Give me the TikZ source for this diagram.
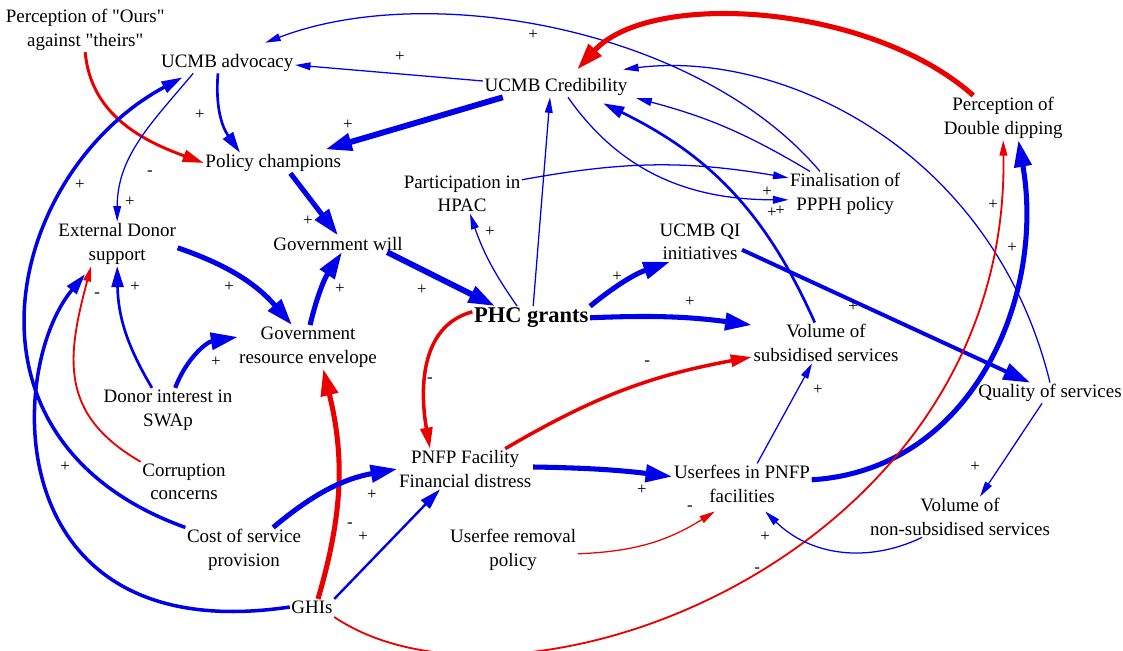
\documentclass[tikz,border=0pt]{standalone}
\usepackage{fontspec}
\setmainfont{Liberation Serif}[Ligatures=TeXOff]
\usetikzlibrary{arrows.meta}
\definecolor{cldblue}{RGB}{0,0,235}
\definecolor{cldred}{RGB}{235,0,0}

\begin{document}
\begin{tikzpicture}[
  factor/.style={align=center,inner sep=1pt,font=\fontsize{13.5}{17}\selectfont},
  polarity/.style={inner sep=0pt,font=\fontsize{12}{12}\selectfont},
  flow/.style={line width=0.9pt,-{Triangle[length=11pt,width=5.5pt]}},
  flow mid/.style={line width=1.9pt,-{Triangle[length=15pt,width=8.5pt]}},
  flow bold/.style={line width=3.6pt,-{Triangle[length=19pt,width=12pt]}}
]
\useasboundingbox (0,0) rectangle (28.075,16.275);

% variables, top row
\node[factor] (ours) at (2.13,15.53) {Perception of "Ours"\\against "theirs"};
\node[factor] (adv) at (5.68,14.70) {UCMB advocacy};
\node[factor] (cred) at (13.90,14.10) {UCMB Credibility};
\node[factor] (dd) at (25.08,13.33) {Perception of\\Double dipping};
\node[factor] (champ) at (6.83,12.20) {Policy champions};
\node[factor] (hpac) at (11.55,11.43) {Participation in\\HPAC};
\node[factor] (ppph) at (21.13,11.43) {Finalisation of\\PPPH policy};

% variables, middle
\node[factor] (ext) at (2.93,10.18) {External Donor\\support};
\node[factor] (gwill) at (8.45,10.18) {Government will};
\node[factor] (qi) at (17.50,10.23) {UCMB QI\\initiatives};
\node[factor,font=\fontsize{16}{19}\selectfont\bfseries] (phc) at (13.28,8.33) {PHC grants};
\node[factor] (vol) at (20.65,7.70) {Volume of\\subsidised services};
\node[factor] (env) at (7.70,7.60) {Government\\resource envelope};
\node[factor] (donor) at (4.20,6.03) {Donor interest in\\SWAp};
\node[factor] (qual) at (26.25,6.45) {Quality of services};

% variables, bottom
\node[factor] (corr) at (4.60,4.23) {Corruption\\concerns};
\node[factor] (pnfp) at (11.63,4.55) {PNFP Facility\\Financial distress};
\node[factor] (fees) at (18.55,4.18) {Userfees in PNFP\\facilities};
\node[factor] (nonsub) at (24.00,3.35) {Volume of\\non-subsidised services};
\node[factor] (remov) at (12.83,2.53) {Userfee removal\\policy};
\node[factor] (cost) at (6.10,2.53) {Cost of service\\provision};
\node[factor] (ghi) at (7.80,1.10) {GHIs};

% links round advocacy and credibility
\draw[flow mid,cldred,line width=2.1pt] (ours.south) to[out=-85,in=160] (champ.west);
\draw[flow mid,cldblue] ([xshift=-0.23cm]adv.south) to[out=-95,in=125] ([xshift=-0.83cm]champ.north);
\draw[flow,cldblue] ([xshift=-0.85cm]adv.south) to[out=-130,in=90] (ext.north);
\draw[flow,cldblue] ([yshift=0.15cm]cred.west) -- ([yshift=-0.05cm]adv.east);
\draw[flow,cldblue] ([xshift=-0.63cm]ppph.north) .. controls +(-3.0,3.55) and +(4.13,1.58) .. ([xshift=0.95cm,yshift=0.25cm]adv.north);
\draw[flow,cldblue] (qual.north) .. controls +(-1.43,5.83) and +(3.95,0.5) .. ([xshift=-0.15cm,yshift=0.18cm]cred.north east);
\draw[flow,cldblue] ([xshift=-0.88cm]ppph.north) to[bend right=8] ([xshift=0.18cm,yshift=-0.28cm]cred.east);
\draw[flow mid,cldblue] ([xshift=-0.28cm]vol.north) to[bend right=20] ([xshift=1.18cm,yshift=-0.15cm]cred.south);
\draw[flow,cldblue] ([yshift=0.35cm]hpac.east) to[bend left=10] ([yshift=0.4cm]ppph.west);
\draw[flow,cldblue] ([xshift=0.3cm]cred.south) to[out=-55,in=180] ([yshift=-0.15cm]ppph.west);
\draw[flow bold,cldblue,line width=4.2pt] ([xshift=-1.33cm]cred.south) -- ([xshift=1.3cm,yshift=0.08cm]champ.north);
\draw[flow bold,cldred] ([xshift=-0.75cm]dd.north) .. controls +(-2.58,2.3) and +(1.83,2.0) .. ([xshift=0.53cm,yshift=0.18cm]cred.north);

% government will and grants
\draw[flow bold,cldblue] ([xshift=0.43cm]champ.south) -- (gwill.north);
\draw[flow,cldblue] ([xshift=-0.35cm]phc.north) to[bend left=8] ([xshift=0.2cm]hpac.south);
\draw[flow,cldblue] ([xshift=0.05cm]phc.north) -- ([xshift=-0.15cm]cred.south);
\draw[flow bold,cldblue,line width=4.2pt] ([xshift=1.23cm]gwill.south) -- ([xshift=-0.9cm]phc.north);
\draw[flow bold,cldblue] (phc.north east) to[bend left=10] ([xshift=-0.75cm]qi.south);
\draw[flow bold,cldblue] (phc.east) to[bend left=5] ([yshift=0.45cm]vol.west);
\draw[flow bold,cldblue,line width=2.8pt] ([yshift=-0.2cm]qi.east) -- ([xshift=-0.5cm]qual.north);

% donor side
\draw[flow bold,cldblue] ([yshift=-0.1cm]ext.east) to[bend left=15] ([xshift=-0.4cm]env.north);
\draw[flow bold,cldblue] ([xshift=0.05cm]env.north) to[bend left=10] ([xshift=0.1cm]gwill.south);
\draw[flow bold,cldblue,line width=3pt] ([xshift=0.18cm]donor.north) to[bend left=30] ([yshift=0.25cm]env.west);
\draw[flow mid,cldblue] ([xshift=-0.4cm]donor.north) to[bend left=15] (ext.south);
\draw[flow,cldred,line width=1.3pt] (corr.north west) to[out=150,in=-105,looseness=1.2] ([xshift=-0.65cm]ext.south);
\draw[flow mid,cldblue,line width=2.5pt] (ghi.west) .. controls +(-7.25,-1.08) and +(-2.0,-2.4) .. ([xshift=-0.8cm,yshift=-0.2cm]ext.south);
\draw[flow mid,cldblue,line width=2.5pt] (cost.north west) .. controls +(-6.13,2.2) and +(-4.35,-2.33) .. ([xshift=0.58cm,yshift=-0.1cm]adv.south west);

% facility side
\draw[flow bold,cldred] ([xshift=0.15cm]ghi.north) to[bend right=15] ([xshift=0.38cm]env.south);
\draw[flow mid,cldblue,line width=1.7pt] (ghi.north east) -- ([xshift=-0.63cm]pnfp.south);
\draw[flow bold,cldblue] ([xshift=0.73cm]cost.north) to[bend left=15] (pnfp.west);
\draw[flow mid,cldred,line width=2.5pt] ([yshift=0.15cm]phc.west) to[out=195,in=100] ([xshift=-0.88cm]pnfp.north);
\draw[flow mid,cldred,line width=2.5pt] ([xshift=1.0cm]pnfp.north) to[bend left=10] ([yshift=-0.35cm]vol.west);
\draw[flow bold,cldblue] ([yshift=0.05cm]pnfp.east) to[bend left=3] ([yshift=0.18cm]fees.west);
\draw[flow,cldblue] ([xshift=0.38cm]fees.north) -- ([xshift=-0.35cm]vol.south);
\draw[flow bold,cldblue] ([yshift=0.1cm]fees.east) .. controls +(4.05,0.25) and +(0.68,-3.88) .. ([xshift=0.38cm]dd.south);
\draw[flow,cldred,line width=1.3pt] ([yshift=-0.25cm]ghi.east) .. controls +(4.55,-3.08) and +(0.18,-10.45) .. (dd.south);
\draw[flow,cldred] ([yshift=-0.1cm]remov.east) to[bend right=15] ([xshift=-0.68cm,yshift=-0.18cm]fees.south);
\draw[flow,cldblue] ([xshift=-0.95cm]nonsub.south) to[bend left=35] ([xshift=0.58cm,yshift=-0.18cm]fees.south);
\draw[flow,cldblue] ([xshift=-0.2cm]qual.south) -- ([xshift=0.5cm]nonsub.north);

% polarity signs
\foreach \x/\y [count=\i] in {10.00/14.85, 13.33/15.40, 5.00/13.40, 8.70/13.15, 2.00/11.65,
    3.25/11.23, 7.70/10.75, 12.25/10.48, 3.38/9.10, 5.73/9.10, 8.50/9.05, 5.40/7.23,
    10.55/9.03, 15.43/9.35, 17.25/8.73, 21.33/8.60, 19.18/11.48, 19.30/10.95, 19.50/11.00,
    24.83/11.15, 25.30/10.08, 20.45/6.53, 16.05/4.03, 9.30/3.90, 9.08/2.85, 19.13/2.85,
    24.38/4.60, 1.63/4.60}
  \node[polarity] (plus\i) at (\x,\y) {+};
\foreach \x/\y [count=\i] in {3.75/11.95, 2.43/8.90, 10.75/6.78, 16.18/7.20, 8.75/3.15,
    17.25/3.58, 18.93/2.03}
  \node[polarity] (minus\i) at (\x,\y) {-};

\end{tikzpicture}
\end{document}
